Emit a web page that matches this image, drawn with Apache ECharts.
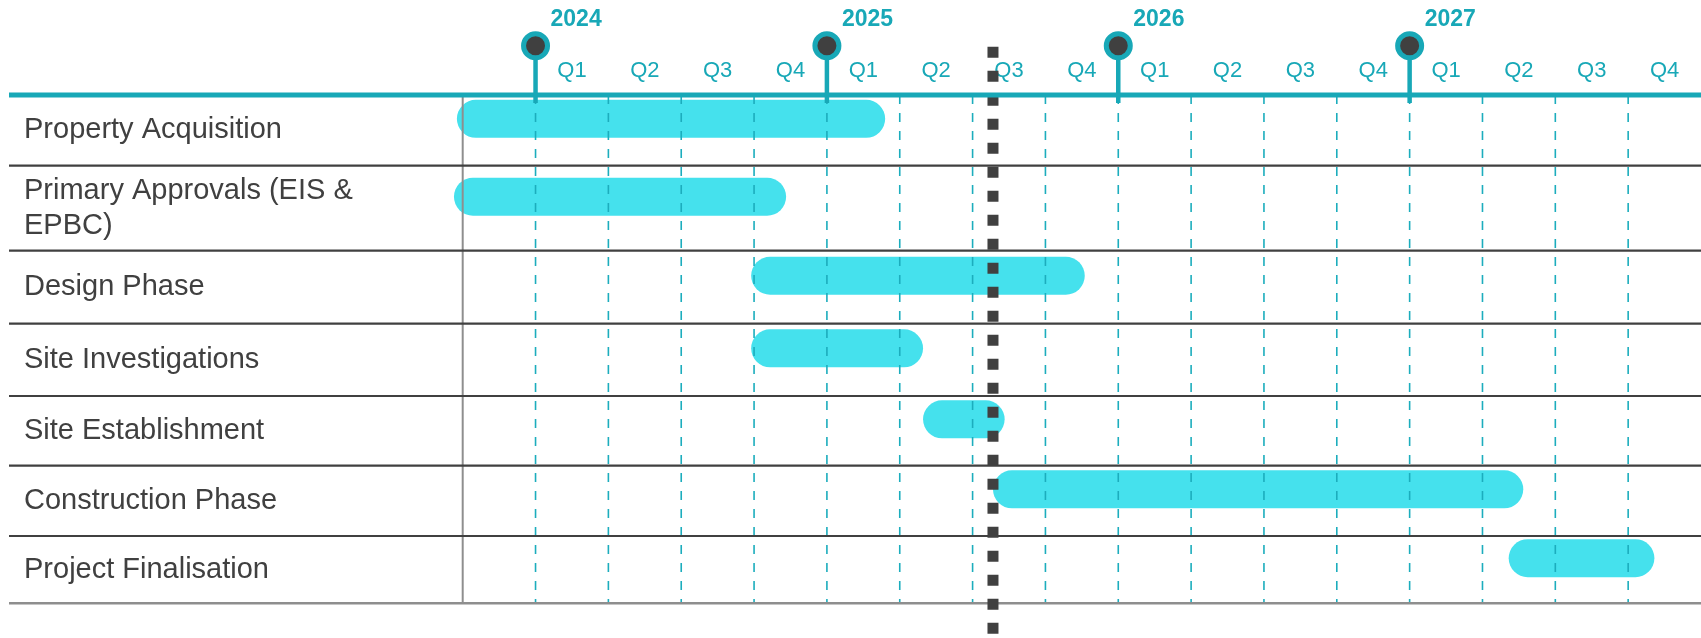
<!DOCTYPE html>
<html><head><meta charset="utf-8">
<script src="https://cdn.jsdelivr.net/npm/echarts@6/dist/echarts.min.js"></script>
<style>html,body{margin:0;padding:0;background:#fff}#c{width:1701px;height:638px}</style>
</head><body><div id="c"></div>
<script>
// ---- data ----
const tasks = ['Property Acquisition', 'Primary Approvals (EIS &\nEPBC)', 'Design Phase', 'Site Investigations', 'Site Establishment', 'Construction Phase', 'Project Finalisation'];
const taskStart = [2023.73, 2023.72, 2024.74, 2024.74, 2025.33, 2025.57, 2027.34];
const taskEnd = [2025.20, 2024.86, 2025.885, 2025.33, 2025.61, 2027.39, 2027.84];
const quarterLabels = ['', 'Q1', 'Q2', 'Q3', 'Q4', 'Q1', 'Q2', 'Q3', 'Q4', 'Q1', 'Q2', 'Q3', 'Q4', 'Q1', 'Q2', 'Q3', 'Q4'];
const years = [2024, 2025, 2026, 2027];
const todayMarker = 2025.57;

// ---- layout ----
const rowSpan = [70.7, 85, 73, 72.3, 69.7, 70.3, 67.3];
const rowTop = []; let acc = 0;
rowSpan.forEach(h => { rowTop.push(acc); acc += h; });
const rowTotal = acc;
const axisMin = 2023.75, axisMax = 2028;
const TEAL = '#18A8B7', BAR = '#45E1ED', DARK = '#404040', FONT = '"Liberation Sans", Arial, sans-serif';

const chart = echarts.init(document.getElementById('c'));

function renderBars(params, api) {
  const i = api.value(0);
  const mid = rowTop[i] + rowSpan[i] / 2;
  const s = api.coord([api.value(1), mid]);
  const e = api.coord([api.value(2), mid]);
  const h = 38, cy = s[1] - 11.5;
  return { type: 'rect', shape: { x: s[0], y: cy - h / 2, width: e[0] - s[0], height: h, r: h / 2 }, style: { fill: BAR } };
}

function renderRows(params, api) {
  const i = api.value(0);
  const mid = api.coord([axisMin, rowTop[i] + rowSpan[i] / 2])[1];
  const bot = api.coord([axisMin, rowTop[i] + rowSpan[i]])[1];
  const last = i === tasks.length - 1;
  return { type: 'group', children: [
    { type: 'text', style: { text: tasks[i], x: 24, y: mid, align: 'left', verticalAlign: 'middle', fill: DARK, font: '29px ' + FONT, lineHeight: 35 } },
    { type: 'line', shape: { x1: 9, y1: bot, x2: api.getWidth(), y2: bot }, style: { stroke: last ? '#8E8E8E' : DARK, lineWidth: last ? 2.5 : 2.2 } }
  ] };
}

function renderGrid(params, api) {
  const children = [];
  const top = api.coord([axisMin, 0])[1], bot = api.coord([axisMin, rowTotal])[1];
  for (let k = 1; k < quarterLabels.length; k++) {
    const x = api.coord([axisMin + k * 0.25, 0])[0];
    children.push({ type: 'line', shape: { x1: x, y1: top, x2: x, y2: bot }, style: { stroke: '#1CADBD', lineWidth: 1.6, lineDash: [9, 9] } });
  }
  const x0 = api.coord([axisMin, 0])[0];
  children.push({ type: 'line', shape: { x1: x0, y1: top, x2: x0, y2: bot }, style: { stroke: '#8E8E8E', lineWidth: 2 } });
  return { type: 'group', children };
}

function renderTimeline(params, api) {
  const top = api.coord([axisMin, 0])[1];
  const children = [
    { type: 'line', shape: { x1: 9, y1: top, x2: api.getWidth(), y2: top }, style: { stroke: TEAL, lineWidth: 5 } }
  ];
  years.forEach(y => {
    const x = api.coord([y, 0])[0];
    const cy = top - 49.3;
    children.push({ type: 'line', shape: { x1: x, y1: top + 8, x2: x, y2: cy }, style: { stroke: TEAL, lineWidth: 4.5 } });
    children.push({ type: 'circle', shape: { cx: x, cy: cy, r: 12 }, style: { fill: DARK, stroke: TEAL, lineWidth: 5 } });
    children.push({ type: 'text', style: { text: String(y), x: x + 15, y: top - 75, align: 'left', verticalAlign: 'middle', fill: TEAL, font: 'bold 23px ' + FONT } });
  });
  return { type: 'group', children };
}

function renderToday(params, api) {
  const x = api.coord([todayMarker, 0])[0];
  return { type: 'line', shape: { x1: x, y1: 46.7, x2: x, y2: api.getHeight() }, style: { stroke: DARK, lineWidth: 11, lineDash: [11, 13] } };
}

chart.setOption({
  animation: false,
  grid: { left: 462.7, top: 95, width: 1240, height: rowTotal },
  xAxis: [
    { type: 'value', min: axisMin, max: axisMax, show: false },
    { type: 'category', data: quarterLabels, position: 'top', boundaryGap: true,
      axisLine: { show: false }, axisTick: { show: false }, splitLine: { show: false },
      axisLabel: { color: TEAL, fontSize: 22, fontFamily: FONT, margin: 13, interval: 0 } }
  ],
  yAxis: { type: 'value', min: 0, max: rowTotal, inverse: true, show: false },
  series: [
    { type: 'custom', renderItem: renderBars, clip: false, z: 2, data: tasks.map((t, i) => [i, taskStart[i], taskEnd[i]]) },
    { type: 'custom', renderItem: renderGrid, clip: false, z: 3, data: [[0]] },
    { type: 'custom', renderItem: renderRows, clip: false, z: 3, data: tasks.map((t, i) => [i]) },
    { type: 'custom', renderItem: renderToday, clip: false, z: 4, data: [[0]] },
    { type: 'custom', renderItem: renderTimeline, clip: false, z: 5, data: [[0]] }
  ]
});
</script></body></html>
